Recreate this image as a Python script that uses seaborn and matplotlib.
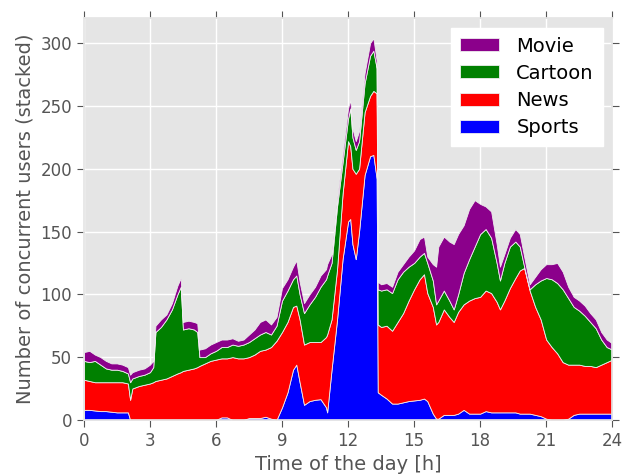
import matplotlib
matplotlib.use("Agg")
import matplotlib.pyplot as plt
import seaborn as sns

# hours of the day (denser where the curves jump)
hours = [0.0, 0.25, 0.5, 0.75, 1.0, 1.25, 1.5, 1.75, 2.0, 2.1, 2.2, 2.5, 2.75,
         3.0, 3.15, 3.25, 3.5, 3.75, 4.0, 4.25, 4.4, 4.5, 4.75, 5.0, 5.15, 5.25,
         5.5, 5.75, 6.0, 6.25, 6.5, 6.75, 7.0, 7.25, 7.5, 7.75, 8.0, 8.25, 8.5,
         8.75, 9.0, 9.25, 9.5, 9.65, 9.8, 10.0, 10.25, 10.5, 10.75, 11.0, 11.05,
         11.25, 11.5, 11.75, 12.0, 12.1, 12.2, 12.35, 12.5, 12.75, 13.0, 13.15,
         13.3, 13.35, 13.5, 13.75, 14.0, 14.25, 14.5, 14.75, 15.0, 15.25, 15.45,
         15.6, 15.85, 16.0, 16.1, 16.35, 16.6, 16.8, 17.0, 17.25, 17.5, 17.75,
         18.0, 18.25, 18.5, 18.75, 18.9, 19.1, 19.35, 19.6, 19.8, 20.0, 20.25,
         20.5, 20.75, 21.0, 21.25, 21.5, 21.75, 22.0, 22.25, 22.5, 22.75, 23.0,
         23.25, 23.5, 23.75, 24.0]

sports = [8, 8, 7.5, 7, 7, 6.5, 6, 6, 6, 0, 0, 0, 0,
          0, 0, 0, 0, 0, 0, 0, 0, 0, 0, 0, 0, 0,
          0, 0, 0, 2, 2, 0, 0, 0, 1.5, 1.5, 1.5, 2.5, 1,
          0, 10, 22, 40, 44, 30, 12, 15, 16, 16.5, 10, 6,
          40, 80, 128, 158, 160, 140, 128, 150, 195, 210, 211,
          192, 22, 20, 17, 13, 13, 14, 15, 15.5, 16, 17,
          15, 5, 1, 1, 4, 4, 4, 5, 8, 5, 5,
          5, 7, 6, 6, 6, 6, 6, 6, 5, 5, 5,
          4, 3, 1, 0, 0, 0, 1, 4, 5, 5, 5,
          5, 5, 5, 5]

news = [24, 23, 22.5, 23, 23, 23.5, 24, 24, 23, 16, 25, 27, 28,
        29, 30, 31, 32, 33, 35, 37, 38, 39, 40, 41, 42, 43,
        45, 47, 48, 47, 47, 50, 49, 49, 48.5, 50.5, 53.5, 53.5, 57,
        63, 60, 56, 50, 47, 50, 48, 47, 46, 45.5, 56, 62,
        40, 40, 52, 64, 58, 60, 68, 50, 50, 48, 51,
        68, 54, 54, 58, 58, 65, 71, 80, 88.5, 96, 99,
        86, 85, 75, 77, 84, 78, 74, 81, 84, 90, 92,
        93, 96, 95, 88, 82, 89, 99, 107, 114, 116, 98,
        86, 77, 63, 58, 53, 46, 43, 40, 39, 38, 38,
        37, 39, 41, 43]

cartoon = [15, 15, 17, 14, 11, 10, 10, 9, 8, 14, 8, 8, 8,
           9, 12, 39, 42, 47, 53, 63, 68, 33, 33, 31, 28, 7,
           5, 6, 7, 9, 9, 10, 10, 11, 12, 13, 13, 14, 10,
           12, 25, 25, 22, 24, 20, 25, 30, 36, 44, 46, 47,
           45, 50, 25, 18, 30, 25, 19, 22, 23, 32, 32,
           20, 28, 29, 29, 30, 34, 33, 27, 21, 18, 17,
           24, 21, 16, 17, 15, 13, 10, 14, 25, 33, 41,
           50, 49, 44, 31, 23, 30, 33, 29, 19, 1, 1,
           18, 31, 49, 54, 56, 58, 53, 46, 43, 40, 35,
           31, 20, 12, 8]

movie = [7, 9, 5, 6, 6, 5, 5, 5, 5, 6, 5, 5, 5,
         6, 5, 5, 6, 4, 5, 7, 7, 6, 6, 6, 7, 6,
         7, 7, 7, 6, 6, 5, 4, 4, 6, 7, 10, 10, 8,
         7, 10, 9, 10, 12, 10, 8, 8, 8, 9, 8, 9,
         7, 6, 7, 8, 7, 7, 7, 8, 8, 10, 10,
         6, 6, 5, 5, 5, 6, 6, 8, 10, 14, 13,
         5, 13, 30, 43, 43, 47, 52, 48, 38, 40, 37,
         24, 18, 21, 15, 11, 7, 7, 10, 10, 8, 4,
         6, 9, 11, 12, 16, 14, 9, 8, 8, 8, 7,
         7, 6, 6, 5]

labels = ["Sports", "News", "Cartoon", "Movie"]
colors = ["#0000FF", "#FF0000", "#008000", "#8B008B"]
xticks = [0, 3, 6, 9, 12, 15, 18, 21, 24]

sns.set_theme(style="darkgrid", rc={
    "axes.facecolor": "#E5E5E5",
    "axes.edgecolor": "#E5E5E5",
    "grid.color": "white",
    "grid.linewidth": 1.0,
    "xtick.color": "#555555",
    "ytick.color": "#555555",
    "axes.labelcolor": "#555555",
    "xtick.direction": "out",
    "ytick.direction": "out",
    "xtick.major.size": 5,
    "ytick.major.size": 5,
    "xtick.bottom": True,
    "ytick.left": True,
})
plt.rcParams["font.family"] = ["DejaVu Sans"]

fig, ax = plt.subplots(figsize=(6.26, 4.75), dpi=100)
fig.subplots_adjust(left=0.134, right=0.978, top=0.962, bottom=0.116)

polys = ax.stackplot(hours, sports, news, cartoon, movie, labels=labels,
                     colors=colors, edgecolor="#EEEEEE", linewidth=0.6)

ax.set_xlim(0, 24)
ax.set_ylim(0, 320)
ax.set_xticks(xticks)
ax.set_yticks([0, 50, 100, 150, 200, 250, 300])
ax.tick_params(top=True, right=True, labeltop=False, labelright=False,
               labelsize=12, width=0.8, color="#555555")
ax.set_xlabel("Time of the day [h]", fontsize=14)
ax.set_ylabel("Number of concurrent users (stacked)", fontsize=14)

leg = ax.legend(polys[::-1], labels[::-1], loc="upper right", fontsize=14,
                frameon=True, facecolor="white", edgecolor="white",
                framealpha=1.0, fancybox=False, handlelength=2.0,
                handleheight=0.65, handletextpad=0.9, borderpad=0.45,
                labelspacing=0.42, borderaxespad=0.5)
for t in leg.get_texts():
    t.set_color("black")

fig.savefig("out.png", dpi=100)
